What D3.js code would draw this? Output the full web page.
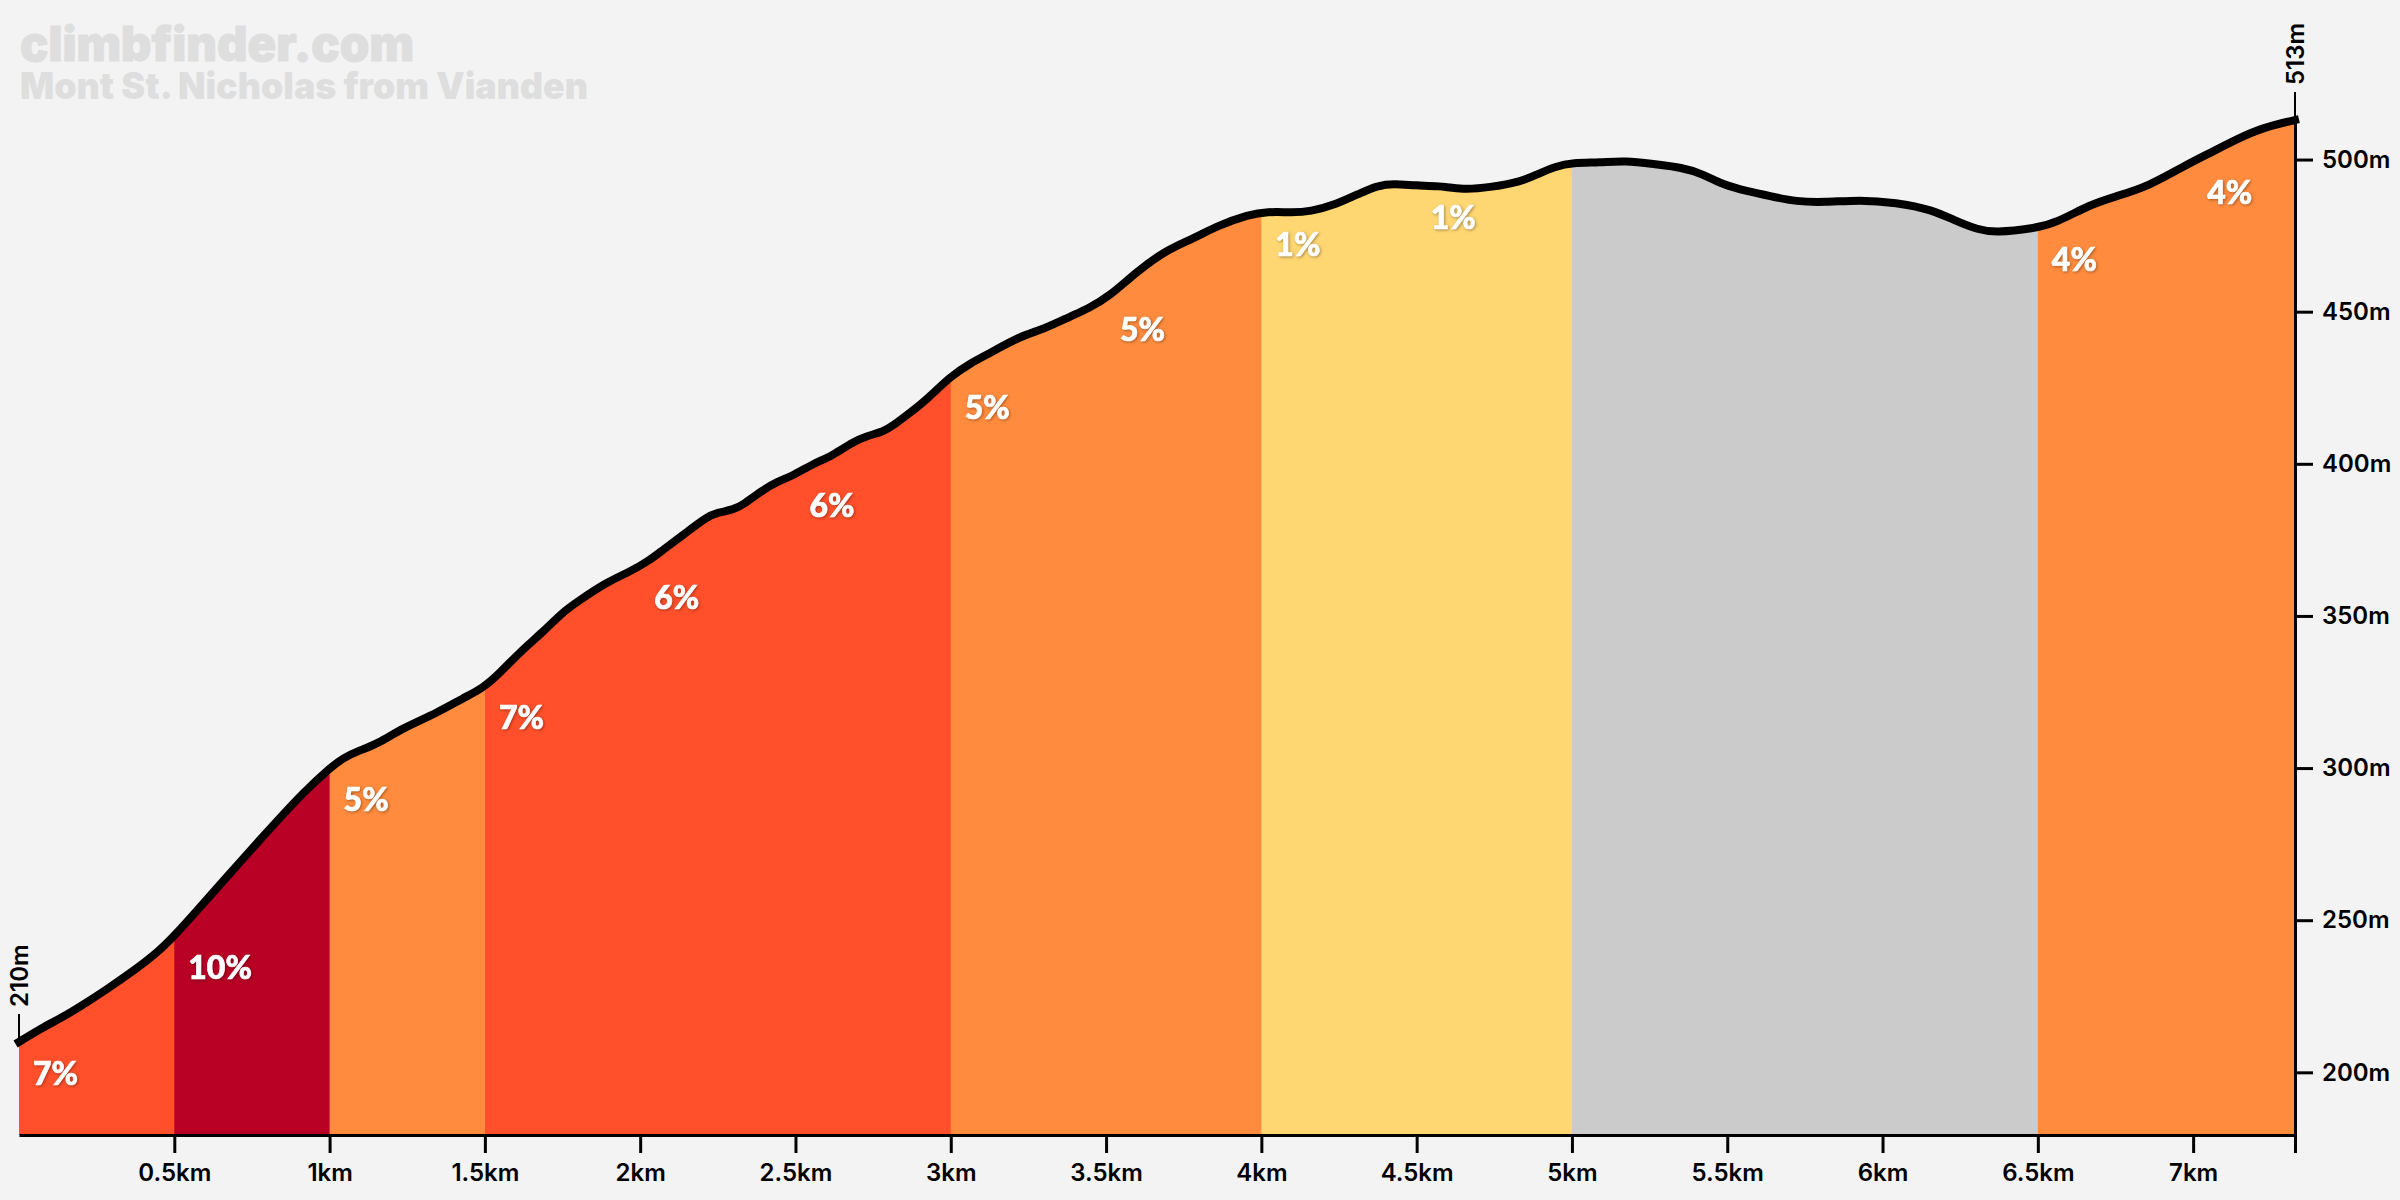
<!DOCTYPE html>
<html>
<head>
<meta charset="utf-8">
<script src="https://cdn.jsdelivr.net/npm/d3@7"></script>
<style>
  html, body { margin: 0; background: #f3f3f3; }
  svg { display: block; }
  text { font-family: Inter, "Noto Sans", sans-serif; }
  .axis text, .end-label { font-size: 24px; font-weight: 600; fill: #000; }
  .axis path, .axis line { stroke: #000; }
  .grade { font-family: Lato, Inter, sans-serif; font-size: 32px; font-weight: 900; fill: #fff; stroke: #fff; stroke-width: 0.7px; filter: drop-shadow(1px 1px 1.5px rgba(0,0,0,.35)); }
</style>
</head>
<body>
<div class="container"></div>
<script>
const title = 'climbfinder.com'
const subtitle = 'Mont St. Nicholas from Vianden'

const distances = [0, 0.077, 0.135, 0.203, 0.283, 0.367, 0.448, 0.505, 0.563, 0.628, 0.712, 0.776, 0.84, 0.914, 1.001, 1.043, 1.098, 1.153, 1.236, 1.346, 1.43, 1.494, 1.549, 1.613, 1.687, 1.751, 1.797, 1.893, 1.967, 2.032, 2.073, 2.138, 2.215, 2.247, 2.299, 2.331, 2.395, 2.44, 2.492, 2.556, 2.618, 2.685, 2.73, 2.782, 2.814, 2.869, 2.923, 2.997, 3.065, 3.129, 3.22, 3.303, 3.384, 3.442, 3.509, 3.599, 3.696, 3.78, 3.86, 3.96, 4.018, 4.099, 4.157, 4.24, 4.321, 4.372, 4.427, 4.501, 4.569, 4.649, 4.733, 4.839, 4.887, 4.945, 5.003, 5.09, 5.171, 5.27, 5.354, 5.418, 5.483, 5.567, 5.647, 5.721, 5.811, 5.927, 6.043, 6.159, 6.24, 6.307, 6.362, 6.487, 6.561, 6.668, 6.748, 6.855, 6.98, 7.044, 7.144, 7.225, 7.328]
const elevations = [210, 214.8, 217.8, 222, 227.3, 233.2, 239.5, 245.4, 252, 259.5, 269.1, 276.5, 283.6, 291.8, 300, 303.3, 305.9, 307.9, 313.2, 318.1, 323, 326.3, 331.3, 338.2, 344.7, 351.3, 354.6, 361.2, 364.5, 368.4, 371.7, 376.6, 382.6, 383.9, 384.9, 386.5, 391.4, 394.1, 396.1, 400, 402.6, 407.2, 409.2, 410.5, 412.5, 416.8, 421.1, 428.6, 433.2, 436.5, 441.8, 444.4, 448.4, 451, 454.9, 463.2, 470.4, 474, 478.3, 481.9, 482.9, 482.6, 482.9, 485.2, 489.1, 491.4, 492.1, 491.4, 491.4, 490.1, 490.8, 492.8, 495.1, 497.7, 499, 499, 499.7, 498.4, 497.4, 495.4, 491.8, 489.5, 487.8, 486.2, 485.9, 486.8, 485.9, 483.6, 479.6, 477, 476, 477.3, 479.3, 485.2, 487.8, 491.1, 498.4, 501.6, 506.9, 510.5, 513]

const sectionStarts = [0, 0.5, 1, 1.5, 2, 2.5, 3, 3.5, 4, 4.5, 5, 5.5, 6, 6.5, 7]
const sectionGrades = [7, 10, 5, 7, 6, 6, 5, 5, 1, 1, -1, -1, -1, 4, 4]
const gradeBreaks = [1, 3, 6, 10]
const gradeColors = ['#cbcbcb', '#ffd772', '#ff8c3e', '#ff502b', '#b90025']

const distanceTicks = [0.5, 1, 1.5, 2, 2.5, 3, 3.5, 4, 4.5, 5, 5.5, 6, 6.5, 7, 7.328]
const elevationTicks = [200, 250, 300, 350, 400, 450, 500]

const width = 2400
const height = 1200
const margins = { top: 120, right: 105, bottom: 65, left: 19 }
const totalDistance = distances[distances.length - 1]
const profile = distances.map((d, i) => ({ x: d, y: elevations[i] }))

const xScale = d3.scaleLinear()
  .domain([0, totalDistance])
  .range([margins.left, width - margins.right])
const yScale = d3.scaleLinear()
  .domain([179.4, 513])
  .range([height - margins.bottom, margins.top])
const colorScale = d3.scaleThreshold().domain(gradeBreaks).range(gradeColors)
const elevationAt = d3.scaleLinear().domain(distances).range(elevations)

const svg = d3.select('.container').append('svg')
  .attr('width', width)
  .attr('height', height)

svg.append('rect').attr('width', width).attr('height', height).attr('fill', '#f3f3f3')

svg.append('text').text(title)
  .attr('x', 20).attr('y', 61)
  .attr('font-size', 48).attr('font-weight', 900).attr('fill', '#dedede')
  .attr('stroke', '#dedede').attr('stroke-width', 1)
  .attr('textLength', 394).attr('lengthAdjust', 'spacingAndGlyphs')
svg.append('text').text(subtitle)
  .attr('x', 20).attr('y', 99)
  .attr('font-size', 37).attr('font-weight', 900).attr('fill', '#dedede')
  .attr('textLength', 568).attr('lengthAdjust', 'spacingAndGlyphs')

const area = d3.area()
  .x((d) => xScale(d.x))
  .y0(yScale.range()[0])
  .y1((d) => yScale(d.y))
  .curve(d3.curveBasis)
const line = d3.line()
  .x((d) => xScale(d.x))
  .y((d) => yScale(d.y))
  .curve(d3.curveBasis)

// each section repaints the area from its start to the right edge, so no seams
const sections = sectionStarts.map((start, i) => ({ start, grade: sectionGrades[i] }))

const defs = svg.append('defs')
sections.forEach((s, i) => {
  defs.append('clipPath').attr('id', `section-${i}`)
    .append('rect')
    .attr('x', xScale(s.start))
    .attr('y', 0)
    .attr('width', xScale(totalDistance) - xScale(s.start))
    .attr('height', height)
})

svg.append('g').selectAll('path')
  .data(sections)
  .join('path')
  .attr('d', area(profile))
  .attr('clip-path', (d, i) => `url(#section-${i})`)
  .attr('fill', (d) => colorScale(d.grade))

const xAxis = svg.append('g')
  .attr('class', 'axis')
  .attr('transform', `translate(0, ${yScale.range()[0]})`)
  .call(d3.axisBottom(xScale)
    .tickValues(distanceTicks)
    .tickSize(18)
    .tickSizeOuter(0)
    .tickPadding(11)
    .tickFormat((d) => (d === totalDistance ? '' : `${d}km`)))
xAxis.selectAll('path, line').attr('stroke-width', 3)

const yAxis = svg.append('g')
  .attr('class', 'axis')
  .attr('transform', `translate(${xScale.range()[1]}, 0)`)
  .call(d3.axisRight(yScale)
    .tickValues(elevationTicks)
    .tickSize(18)
    .tickSizeOuter(0)
    .tickPadding(9)
    .tickFormat((d) => `${d}m`))
yAxis.selectAll('path, line').attr('stroke-width', 3)

svg.append('path')
  .attr('d', line(profile))
  .attr('fill', 'none')
  .attr('stroke', '#000')
  .attr('stroke-width', 8)
  .attr('stroke-linecap', 'square')

// start and finish altitude, standing up from the ends of the line
const endMarks = [profile[0], profile[profile.length - 1]]
endMarks.forEach((d) => {
  const x = xScale(d.x)
  const y = yScale(d.y)
  svg.append('line')
    .attr('x1', x).attr('x2', x)
    .attr('y1', y).attr('y2', y - 28)
    .attr('stroke', '#000').attr('stroke-width', 2)
  svg.append('text')
    .attr('class', 'end-label')
    .text(`${d.y}m`)
    .attr('transform', `translate(${x + 9}, ${y - 35}) rotate(-90)`)
})

svg.append('g').selectAll('text')
  .data(sections.filter((s) => s.grade >= gradeBreaks[0]))
  .join('text')
  .attr('class', 'grade')
  .attr('x', (d) => xScale(d.start) + 14)
  .attr('y', (d) => yScale(elevationAt(d.start)) + 43)
  .text((d) => `${d.grade}%`)
</script>
</body>
</html>
